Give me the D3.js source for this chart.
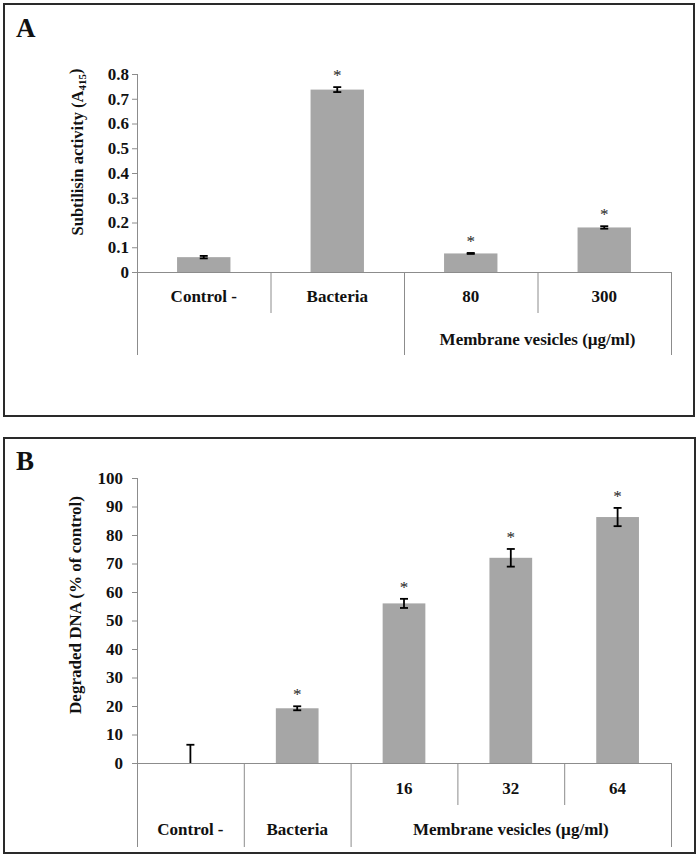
<!DOCTYPE html>
<html>
<head>
<meta charset="utf-8">
<script src="https://cdn.jsdelivr.net/npm/d3@7"></script>
<style>
  html, body { margin: 0; padding: 0; background: #fff; }
  svg { display: block; }
  text { font-family: "Liberation Serif", "Times New Roman", serif; }
</style>
</head>
<body>
<svg id="chart" width="700" height="859"></svg>
<script>
// ---- Panel A data ----
const catsA = ["Control -", "Bacteria", "80", "300"];
const valsA = [0.06, 0.737, 0.075, 0.18];
const errA = [0.005, 0.01, 0.002, 0.005];
const sigA = [false, true, true, true];
const groupsA = [
  { label: "", from: 0, to: 1 },
  { label: "Membrane vesicles (µg/ml)", from: 2, to: 3 }
];
const ticksA = [0, 0.1, 0.2, 0.3, 0.4, 0.5, 0.6, 0.7, 0.8];

// ---- Panel B data ----
const catsB = ["", "", "16", "32", "64"];
const valsB = [0, 19.2, 56, 72, 86.3];
const errB = [6.4, 0.7, 1.6, 3.1, 3.2];
const sigB = [false, true, true, true, true];
const groupsB = [
  { label: "Control -", from: 0, to: 0 },
  { label: "Bacteria", from: 1, to: 1 },
  { label: "Membrane vesicles (µg/ml)", from: 2, to: 4 }
];
const ticksB = [0, 10, 20, 30, 40, 50, 60, 70, 80, 90, 100];

const svg = d3.select("#chart");
const barColor = "#a6a6a6";
const axisColor = "#8c8c8c";

function panel(cfg) {
  const g = svg.append("g");
  // frame
  g.append("rect")
    .attr("x", cfg.frame[0]).attr("y", cfg.frame[1])
    .attr("width", cfg.frame[2] - cfg.frame[0]).attr("height", cfg.frame[3] - cfg.frame[1])
    .attr("fill", "none").attr("stroke", "#2a2a2a").attr("stroke-width", 2);
  // letter
  g.append("text").attr("x", cfg.letterPos[0]).attr("y", cfg.letterPos[1])
    .attr("font-size", 27).attr("font-weight", "bold").attr("fill", "#111").text(cfg.letter);

  const x = d3.scaleBand().domain(d3.range(cfg.cats.length)).range([cfg.x0, cfg.x1]).padding(0);
  const y = d3.scaleLinear().domain(cfg.domain).range([cfg.y0, cfg.yTop]);
  const bw = x.bandwidth() * 0.4;

  // y axis
  const yAxis = d3.axisLeft(y).tickValues(cfg.ticks).tickSize(5).tickPadding(cfg.tickPad)
    .tickFormat(cfg.fmt);
  const ya = g.append("g").attr("transform", `translate(${cfg.x0},0)`).call(yAxis);
  ya.select(".domain").attr("stroke", axisColor).attr("d", `M0.5,${y(cfg.domain[1])}V${cfg.y0}`);
  ya.selectAll(".tick line").attr("stroke", axisColor);
  ya.selectAll(".tick text").attr("font-size", 17).attr("font-weight", "bold")
    .attr("fill", "#111").attr("font-family", "Liberation Serif, serif");

  // y title
  const tt = g.append("text")
    .attr("transform", `translate(${cfg.titlePos[0]},${cfg.titlePos[1]}) rotate(-90)`)
    .attr("text-anchor", "middle").attr("dy", "0.35em")
    .attr("font-size", cfg.titleSize).attr("font-weight", "bold").attr("fill", "#111");
  cfg.title(tt);

  // bars
  g.selectAll("rect.bar").data(cfg.vals).enter().append("rect").attr("class", "bar")
    .attr("x", (d, i) => x(i) + x.bandwidth() / 2 - bw / 2)
    .attr("y", d => y(d)).attr("width", bw).attr("height", d => cfg.y0 - y(d))
    .attr("fill", barColor);

  // x axis line
  g.append("line").attr("x1", cfg.x0).attr("x2", cfg.x1).attr("y1", cfg.y0 + 0.5).attr("y2", cfg.y0 + 0.5)
    .attr("stroke", axisColor);

  // separators
  const groupBounds = new Set();
  cfg.groups.forEach(gr => { groupBounds.add(gr.from); groupBounds.add(gr.to + 1); });
  for (let i = 0; i <= cfg.cats.length; i++) {
    const xx = (i < cfg.cats.length ? x(i) : cfg.x1) + 0.5;
    const full = groupBounds.has(i);
    g.append("line").attr("x1", xx).attr("x2", xx).attr("y1", cfg.y0)
      .attr("y2", cfg.y0 + (full ? cfg.row2Bottom : cfg.row1Bottom))
      .attr("stroke", axisColor);
  }
  // level-1 labels
  g.selectAll("text.cat").data(cfg.cats).enter().append("text").attr("class", "cat")
    .attr("x", (d, i) => x(i) + x.bandwidth() / 2).attr("y", cfg.y0 + cfg.row1Label)
    .attr("text-anchor", "middle").attr("dy", "0.35em")
    .attr("font-size", 17).attr("font-weight", "bold").attr("fill", "#111").text(d => d);
  // level-2 labels
  g.selectAll("text.grp").data(cfg.groups).enter().append("text").attr("class", "grp")
    .attr("x", d => (x(d.from) + x(d.to) + x.bandwidth()) / 2).attr("y", cfg.y0 + cfg.row2Label)
    .attr("text-anchor", "middle").attr("dy", "0.35em")
    .attr("font-size", 17).attr("font-weight", "bold").attr("fill", "#111").text(d => d.label);

  // error bars
  cfg.vals.forEach((v, i) => {
    const cx = x(i) + x.bandwidth() / 2;
    const lo = Math.max(cfg.domain[0], v - cfg.err[i]);
    const hi = v + cfg.err[i];
    g.append("line").attr("x1", cx).attr("x2", cx).attr("y1", y(lo)).attr("y2", y(hi))
      .attr("stroke", "#000").attr("stroke-width", 1.8);
    g.append("line").attr("x1", cx - 4).attr("x2", cx + 4).attr("y1", y(hi)).attr("y2", y(hi))
      .attr("stroke", "#000").attr("stroke-width", 1.8);
    if (v - cfg.err[i] >= cfg.domain[0]) {
      g.append("line").attr("x1", cx - 4).attr("x2", cx + 4).attr("y1", y(lo)).attr("y2", y(lo))
        .attr("stroke", "#000").attr("stroke-width", 1.8);
    }
    if (cfg.sig[i]) {
      g.append("text").attr("x", cx).attr("y", y(hi) - 6)
        .attr("text-anchor", "middle").attr("font-size", 17).attr("fill", "#333")
        .style("text-rendering", "geometricPrecision").text("*");
    }
  });
}

panel({
  frame: [4, 4, 694, 416], letter: "A", letterPos: [16, 37],
  cats: catsA, vals: valsA, err: errA, sig: sigA, groups: groupsA, ticks: ticksA,
  domain: [0, 0.8], x0: 137, x1: 671, y0: 272, yTop: 74,
  fmt: d => d === 0 ? "0" : d3.format(".1f")(d), tickPad: 3,
  titlePos: [77, 152], titleSize: 16.5,
  title: t => { t.append("tspan").text("Subtilisin activity (A");
                t.append("tspan").attr("font-size", 11).attr("dy", "0.3em").text("415");
                t.append("tspan").attr("dy", "-0.3em").text(")"); },
  row1Bottom: 41, row2Bottom: 83, row1Label: 24, row2Label: 67
});

panel({
  frame: [4, 438, 695, 853], letter: "B", letterPos: [16, 470],
  cats: catsB, vals: valsB, err: errB, sig: sigB, groups: groupsB, ticks: ticksB,
  domain: [0, 100], x0: 137, x1: 671, y0: 763, yTop: 478,
  fmt: d3.format("d"), tickPad: 9,
  titlePos: [75, 605], titleSize: 17,
  title: t => t.text("Degraded DNA (% of control)"),
  row1Bottom: 42, row2Bottom: 84, row1Label: 25, row2Label: 66
});
</script>
</body>
</html>
